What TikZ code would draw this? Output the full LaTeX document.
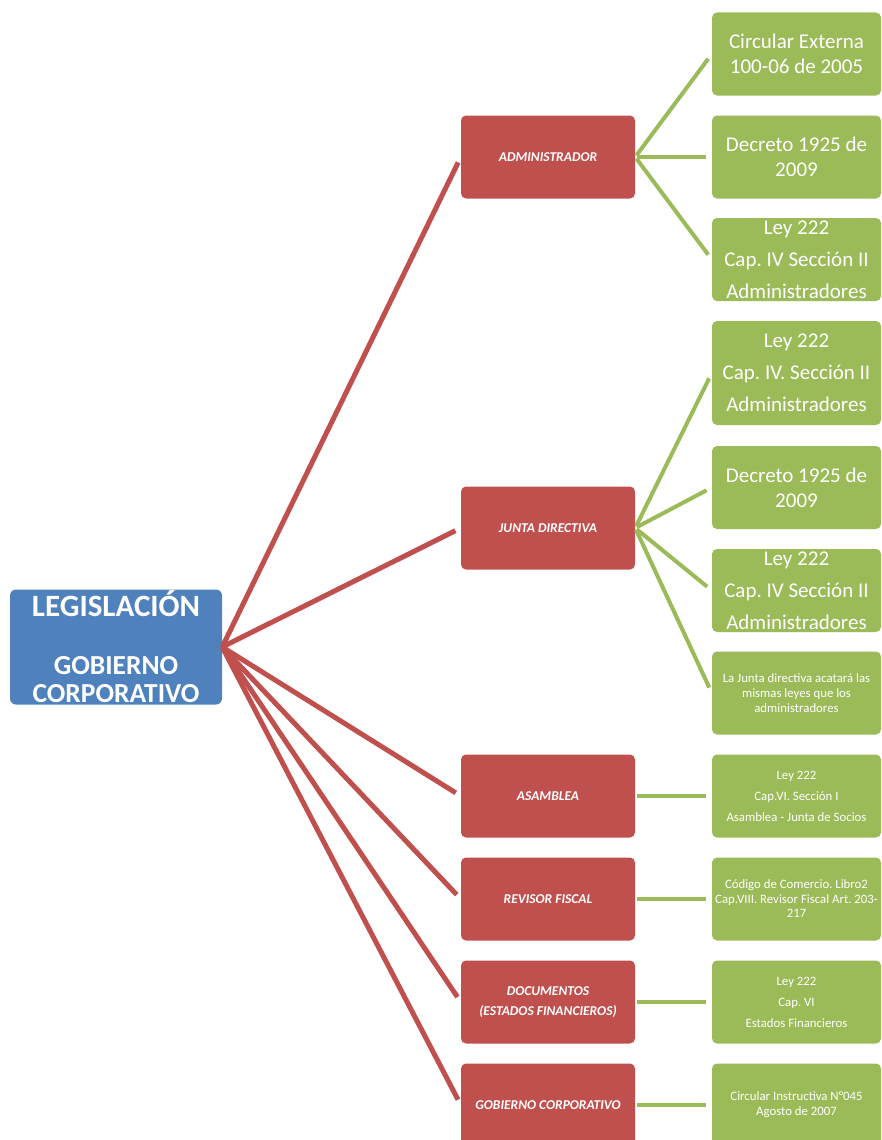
\documentclass[tikz,border=0pt]{standalone}
\usepackage{fontspec}
\setmainfont{Carlito}
\definecolor{rootblue}{HTML}{4F81BD}
\definecolor{catred}{HTML}{C0504D}
\definecolor{lawgreen}{HTML}{9BBB59}
\tikzset{
  rootbox/.style={fill=rootblue, rounded corners=6pt, minimum width=212pt, minimum height=115pt, text=white, align=flush center, inner sep=0pt, font=\bfseries\fontsize{27.5}{28}\selectfont},
  catbox/.style={fill=catred, rounded corners=5pt, minimum width=174pt, minimum height=83pt, text=white, align=flush center, inner sep=2pt, font=\fontsize{13.5}{20}\selectfont\bfseries\itshape},
  lawbox/.style={fill=lawgreen, rounded corners=5pt, minimum width=169pt, minimum height=83pt, text width=163pt, text=white, align=flush center, inner sep=3pt},
  lawbig/.style={font=\fontsize{21}{25}\selectfont},
  lawtall/.style={font=\fontsize{21}{32}\selectfont},
  lawsmall/.style={font=\fontsize{12.8}{15}\selectfont},
  lawwide/.style={font=\fontsize{12.8}{21}\selectfont},
  lawtext/.style={text=white, align=flush center, font=\fontsize{21}{32}\selectfont},
  redlink/.style={draw=catred, line width=5pt, shorten >=6pt},
  greenlink/.style={draw=lawgreen, line width=4pt, shorten <=2pt, shorten >=6pt},
}
\begin{document}
\frenchspacing
\begin{tikzpicture}[x=1pt, y=-1pt]
    \useasboundingbox (0,0) rectangle (881,1140);
    \node[rootbox] (root) at (116, 647) {{\fontsize{31}{31}\selectfont LEGISLACIÓN}\\[30pt]GOBIERNO\\CORPORATIVO};
    \node[catbox] (admin) at (548, 157) {ADMINISTRADOR};
    \node[catbox] (junta) at (548, 528) {JUNTA DIRECTIVA};
    \node[catbox] (asamblea) at (548, 796) {ASAMBLEA};
    \node[catbox] (revisor) at (548, 899) {REVISOR FISCAL};
    \node[catbox] (docs) at (548, 1002) {DOCUMENTOS\\(ESTADOS FINANCIEROS)};
    \node[catbox] (gobierno) at (548, 1105) {GOBIERNO CORPORATIVO};
    \node[lawbox, lawbig] (circular) at (796.5, 54) {Circular Externa\\100-06 de 2005};
    \node[lawbox, lawbig] (decreto) at (796.5, 157) {Decreto 1925 de\\2009};
    \node[lawbox] (leyadmin) at (796.5, 259.5) {};
    \node[lawtext] at (leyadmin) {Ley 222\\Cap. IV Sección II\\Administradores};
    \node[lawbox, lawtall, minimum height=104pt] (leyjunta) at (796.5, 373) {Ley 222\\Cap. IV. Sección II\\Administradores};
    \node[lawbox, lawbig] (decretojunta) at (796.5, 487.5) {Decreto 1925 de\\2009};
    \node[lawbox] (leyjunta2) at (796.5, 590.5) {};
    \node[lawtext] at (leyjunta2) {Ley 222\\Cap. IV Sección II\\Administradores};
    \node[lawbox, lawsmall] (nota) at (796.5, 693) {La Junta directiva acatará las\\mismas leyes que los\\administradores};
    \node[lawbox, lawwide] (leyasamblea) at (796.5, 796) {Ley 222\\Cap.VI. Sección I\\Asamblea - Junta de Socios};
    \node[lawbox, font=\fontsize{12.8}{14.5}\selectfont] (codigo) at (796.5, 899) {Código de Comercio. Libro2\\\mbox{Cap.VIII. Revisor Fiscal Art. 203-}\\217};
    \node[lawbox, lawwide] (leydocs) at (796.5, 1002) {Ley 222\\Cap. VI\\Estados Financieros};
    \node[lawbox, lawsmall] (circinst) at (796.5, 1105) {Circular Instructiva N°045\\Agosto de 2007};
    \draw[redlink] (root.east) -- (admin.west);
    \draw[redlink] (root.east) -- (junta.west);
    \draw[redlink] (root.east) -- (asamblea.west);
    \draw[redlink] (root.east) -- (revisor.west);
    \draw[redlink] (root.east) -- (docs.west);
    \draw[redlink] (root.east) -- (gobierno.west);
    \draw[greenlink] (admin.east) -- (circular.west);
    \draw[greenlink] (admin.east) -- (decreto.west);
    \draw[greenlink] (admin.east) -- (leyadmin.west);
    \draw[greenlink] (junta.east) -- (leyjunta.west);
    \draw[greenlink] (junta.east) -- (decretojunta.west);
    \draw[greenlink] (junta.east) -- (leyjunta2.west);
    \draw[greenlink] (junta.east) -- (nota.west);
    \draw[greenlink] (asamblea.east) -- (leyasamblea.west);
    \draw[greenlink] (revisor.east) -- (codigo.west);
    \draw[greenlink] (docs.east) -- (leydocs.west);
    \draw[greenlink] (gobierno.east) -- (circinst.west);
  \end{tikzpicture}
\end{document}
